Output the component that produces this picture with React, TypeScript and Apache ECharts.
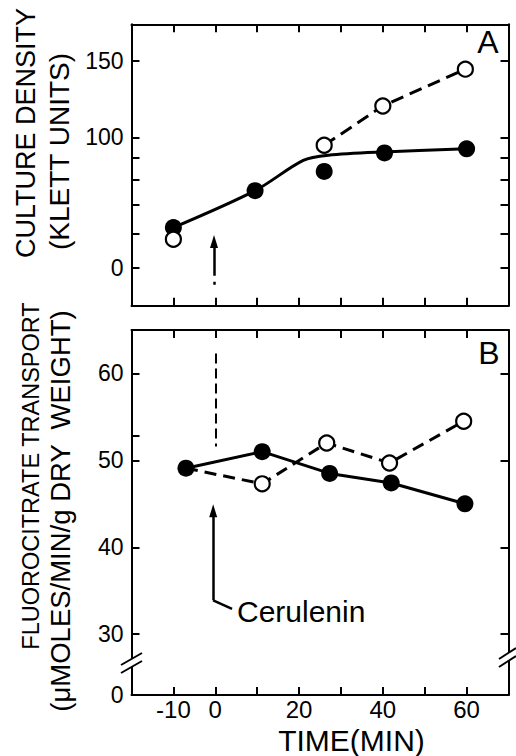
import React, { useEffect, useRef } from 'react';
import * as echarts from 'echarts';

const FONT = '"Liberation Sans", Arial, Helvetica, sans-serif';

// ---------- Panel A : culture density (Klett units, log axis) ----------
const timeFilledA = [-10, 9.5, 26, 40.4, 60];
const densityFilledA = [62, 75.4, 83.5, 92.1, 94.1];
const timeOpenA = [-10, 26, 40, 59.7];
const densityOpenA = [58.3, 95.9, 118.1, 143.5];
// smooth fitted curve drawn through the filled points
const timeCurveA = [-10, 9.5, 21, 27, 40, 60];
const densityCurveA = [62, 75.4, 88.5, 91, 92.6, 94.1];
const densityMinA = 41;
const densityMaxA = 182;
const densityTicksA = [50, 60, 70, 80, 90, 100, 150];
const densityLabelValuesA = [50, 100, 150];
const densityLabelTextA = ['0', '100', '150'];

// ---------- Panel B : fluorocitrate transport ----------
const timeFilledB = [-7, 11.2, 27.3, 42, 59.6];
const transportFilledB = [49.1, 51.0, 48.5, 47.4, 45.0];
const timeOpenB = [11.2, 26.6, 41.6, 59.3];
const transportOpenB = [47.3, 52.0, 49.7, 54.5];
const transportMinB = 23;
const transportMaxB = 65;
const transportTicksLeftB = [30, 40, 50, 52.8, 60];
const transportTicksRightB = [30, 40, 50, 60];
const transportLabelValuesB = [23, 30, 40, 50, 60];
const transportLabelTextB = ['0', '30', '40', '50', '60'];

// ---------- shared time axis ----------
const timeMin = -20;
const timeMax = 70;
const timeInterval = 10;
const timeLabelValues = [-10, 0, 20, 40, 60];

// ---------- annotations (data coordinates) ----------
const arrowAX = -0.3;
const arrowAFrom = 45.8;
const arrowATo = 57.6;
const cerDashX = 0;
const cerDashFrom = 62.3;
const cerDashTo = 51.6;
const arrowBX = -0.5;
const arrowBFrom = 33.9;
const arrowBTo = 44.2;
const leaderBStart = [4, 32.9];

const zip = (xs: number[], ys: number[]) => xs.map((x, i) => [x, ys[i]]);
const near = (a: number, b: number) => Math.abs(a - b) < 1e-6;

const black = '#000';
const axisLine = { show: true, onZero: false, lineStyle: { color: black, width: 2 } };
const tick = { show: true, inside: true, length: 8, lineStyle: { color: black, width: 2 } };
const labelStyle = { color: black, fontFamily: FONT, fontSize: 23 };

function timeAxis(gridIndex: number, position: 'top' | 'bottom', labels: boolean) {
  return {
    type: 'value',
    gridIndex,
    position,
    min: timeMin,
    max: timeMax,
    interval: timeInterval,
    axisLine,
    axisTick: tick,
    splitLine: { show: false },
    axisLabel: labels
      ? { show: true, customValues: timeLabelValues, margin: 3, ...labelStyle, fontSize: 24, lineHeight: 22 }
      : { show: false },
  };
}

const openSymbol = {
  symbol: 'circle',
  symbolSize: 15,
  itemStyle: { color: '#fff', borderColor: black, borderWidth: 2.2, opacity: 1 },
};
const filledSymbol = { symbol: 'circle', symbolSize: 17, itemStyle: { color: black, opacity: 1 } };

function text(t: string, x: number, y: number, size: number, opts: any = {}) {
  return {
    type: 'text',
    x,
    y,
    z: 100,
    rotation: opts.rotation || 0,
    style: {
      text: t,
      fill: black,
      fontFamily: FONT,
      fontSize: size,
      align: opts.align || 'center',
      verticalAlign: 'middle',
      textAlign: opts.align || 'center',
      textVerticalAlign: 'middle',
    },
  };
}

function breakMark(axisX: number, gapTop: number, gapBottom: number, x1: number, x2: number, yA: number, yB: number, rise: number) {
  return [
    { type: 'rect', z: 100, shape: { x: axisX - 3, y: gapTop, width: 6, height: gapBottom - gapTop }, style: { fill: '#fff' } },
    { type: 'line', z: 101, shape: { x1, y1: yA, x2, y2: yA - rise }, style: { stroke: black, lineWidth: 2 } },
    { type: 'line', z: 101, shape: { x1, y1: yB, x2, y2: yB - rise }, style: { stroke: black, lineWidth: 2 } },
  ];
}

const logA = (v: number) => Math.log10(v);

const option: any = {
  animation: false,
  backgroundColor: '#fff',
  grid: [
    { left: 131.5, top: 24.3, width: 377, height: 281.4 },
    { left: 131.5, top: 330, width: 377, height: 365 },
  ],
  xAxis: [
    timeAxis(0, 'bottom', false),
    timeAxis(0, 'top', false),
    timeAxis(1, 'bottom', true),
    timeAxis(1, 'top', false),
  ],
  yAxis: [
    { type: 'log', logBase: 10, gridIndex: 0, min: densityMinA, max: densityMaxA, show: false },
    {
      type: 'value', gridIndex: 0, position: 'left',
      min: logA(densityMinA), max: logA(densityMaxA),
      axisLine,
      axisTick: { ...tick, customValues: densityTicksA.map(logA) },
      axisLabel: {
        show: true, margin: 8, ...labelStyle,
        customValues: densityLabelValuesA.map(logA),
        formatter: (v: number) => {
          const i = densityLabelValuesA.findIndex((t) => Math.abs(logA(t) - v) < 1e-6);
          return i >= 0 ? densityLabelTextA[i] : '';
        },
      },
      splitLine: { show: false },
    },
    {
      type: 'value', gridIndex: 0, position: 'right',
      min: logA(densityMinA), max: logA(densityMaxA),
      axisLine,
      axisTick: { ...tick, customValues: densityTicksA.map(logA) },
      axisLabel: { show: false },
      splitLine: { show: false },
    },
    {
      type: 'value', gridIndex: 1, position: 'left',
      min: transportMinB, max: transportMaxB,
      axisLine,
      axisTick: { ...tick, customValues: transportTicksLeftB },
      axisLabel: {
        show: true, margin: 8, ...labelStyle,
        customValues: transportLabelValuesB,
        formatter: (v: number) => {
          const i = transportLabelValuesB.findIndex((t) => near(t, v));
          return i >= 0 ? transportLabelTextB[i] : '';
        },
      },
      splitLine: { show: false },
    },
    {
      type: 'value', gridIndex: 1, position: 'right',
      min: transportMinB, max: transportMaxB,
      axisLine,
      axisTick: { ...tick, customValues: transportTicksRightB },
      axisLabel: { show: false },
      splitLine: { show: false },
    },
  ],
  series: [
    // ---- Panel A ----
    {
      type: 'line', xAxisIndex: 0, yAxisIndex: 0,
      data: zip(timeOpenA, densityOpenA).slice(1),
      showSymbol: false, symbol: 'none',
      lineStyle: { color: black, width: 3, type: [13, 7] },
      silent: true, z: 2,
    },
    {
      type: 'line', xAxisIndex: 0, yAxisIndex: 0,
      data: zip(timeCurveA, densityCurveA),
      smooth: 0.3, showSymbol: false, symbol: 'none',
      lineStyle: { color: black, width: 3 },
      silent: true, z: 2,
      markLine: {
        silent: true,
        animation: false,
        label: { show: false },
        symbol: ['none', 'triangle'],
        symbolSize: [8, 13],
        lineStyle: { color: black, width: 2.5, type: [3, 6, 200] },
        data: [[{ coord: [arrowAX, arrowAFrom] }, { coord: [arrowAX, arrowATo] }]],
      },
    },
    {
      type: 'scatter', xAxisIndex: 0, yAxisIndex: 0,
      data: zip(timeFilledA, densityFilledA),
      ...filledSymbol, z: 3, silent: true,
    },
    {
      type: 'scatter', xAxisIndex: 0, yAxisIndex: 0,
      data: zip(timeOpenA, densityOpenA),
      ...openSymbol, z: 4, silent: true,
    },
    // ---- Panel B ----
    {
      type: 'line', xAxisIndex: 2, yAxisIndex: 3,
      data: [[timeFilledB[0], transportFilledB[0]], ...zip(timeOpenB, transportOpenB)],
      showSymbol: false, symbol: 'none',
      lineStyle: { color: black, width: 3, type: [12, 7] },
      silent: true, z: 2,
      markLine: {
        silent: true,
        animation: false,
        label: { show: false },
        symbolSize: [8, 13],
        lineStyle: { color: black, width: 2.5, type: 'solid' },
        data: [
          [
            { coord: [cerDashX, cerDashFrom], symbol: 'none', lineStyle: { type: [10, 5], width: 2 } },
            { coord: [cerDashX, cerDashTo], symbol: 'none' },
          ],
          [
            { coord: [arrowBX, arrowBFrom], symbol: 'none' },
            { coord: [arrowBX, arrowBTo], symbol: 'triangle' },
          ],
          [
            { coord: leaderBStart, symbol: 'none' },
            { coord: [arrowBX, arrowBFrom], symbol: 'none' },
          ],
        ],
      },
    },
    {
      type: 'line', xAxisIndex: 2, yAxisIndex: 3,
      data: zip(timeFilledB, transportFilledB),
      lineStyle: { color: black, width: 3 },
      ...filledSymbol, showSymbol: true,
      silent: true, z: 3,
    },
    {
      type: 'scatter', xAxisIndex: 2, yAxisIndex: 3,
      data: zip(timeOpenB, transportOpenB),
      ...openSymbol, z: 4, silent: true,
    },
  ],
  graphic: [
    text('A', 488, 42, 32),
    text('B', 489, 353, 32),
    text('Cerulenin', 237, 611.5, 30, { align: 'left' }),
    text('TIME(MIN)', 351.5, 740, 30),
    text('CULTURE DENSITY', 26, 133, 27, { rotation: Math.PI / 2 }),
    text('(KLETT UNITS)', 59, 151.5, 28, { rotation: Math.PI / 2 }),
    text('FLUOROCITRATE TRANSPORT', 31, 476, 23.5, { rotation: Math.PI / 2 }),
    text('(\u03bcMOLES/MIN/g DRY  WEIGHT)', 60, 511, 27.5, { rotation: Math.PI / 2 }),
    ...breakMark(131.5, 658, 667, 121, 142, 665, 673, 12),
    ...breakMark(508.5, 652, 661, 499, 516, 659, 667, 11),
  ],
};

export default function App() {
  const ref = useRef<HTMLDivElement>(null);
  useEffect(() => {
    const chart = echarts.init(ref.current as HTMLDivElement, null, { renderer: 'svg' });
    chart.setOption(option);
    return () => chart.dispose();
  }, []);
  return (
    <div
      ref={ref}
      style={{ position: 'absolute', left: 0, top: 0, width: 516, height: 756, background: '#fff' }}
    />
  );
}
